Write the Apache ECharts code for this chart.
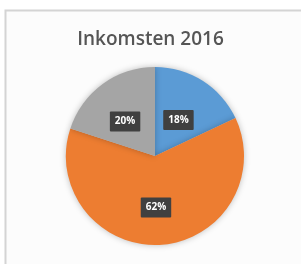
<!DOCTYPE html>
<html><head><meta charset="utf-8">
<script src="https://cdn.jsdelivr.net/npm/echarts@6/dist/echarts.min.js"></script>
<style>html,body{margin:0;padding:0;background:#fff}#c{width:301px;height:264px}</style>
</head><body><div id="c"></div>
<script>
var titleText = 'Inkomsten 2016';
var categories = ['A', 'B', 'C'];
var values = [18, 62, 20];
var colors = ['#5B9BD5', '#ED7D31', '#A5A5A5'];

var chart = echarts.init(document.getElementById('c'), null, {renderer: 'canvas'});
chart.setOption({
  animation: false,
  backgroundColor: '#fff',
  graphic: [{
    type: 'rect', shape: {x: 5.5, y: 10.5, width: 300, height: 260},
    style: {fill: '#fcfcfc', stroke: '#d4d4d4', lineWidth: 2}, z: -10
  }],
  title: {
    text: titleText, left: 'center', top: 25,
    textStyle: {fontFamily: 'Open Sans', fontSize: 19, fontWeight: 600, color: '#555555'}
  },
  series: [{
    type: 'pie',
    center: [155, 156],
    radius: [0, 89],
    startAngle: 90,
    clockwise: true,
    itemStyle: {shadowBlur: 6, shadowColor: 'rgba(0,0,0,0.25)'},
    label: {
      position: 'inside',
      formatter: '{d}%',
      color: '#fff', fontSize: 10, fontWeight: 'bold', fontFamily: 'Open Sans',
      backgroundColor: '#404040', padding: [5, 5], borderRadius: 1
    },
    labelLayout: {dx: -2, dy: 4},
    labelLine: {show: false},
    data: categories.map(function (c, i) {
      return {name: c, value: values[i], itemStyle: {color: colors[i]}};
    })
  }]
});
</script></body></html>
